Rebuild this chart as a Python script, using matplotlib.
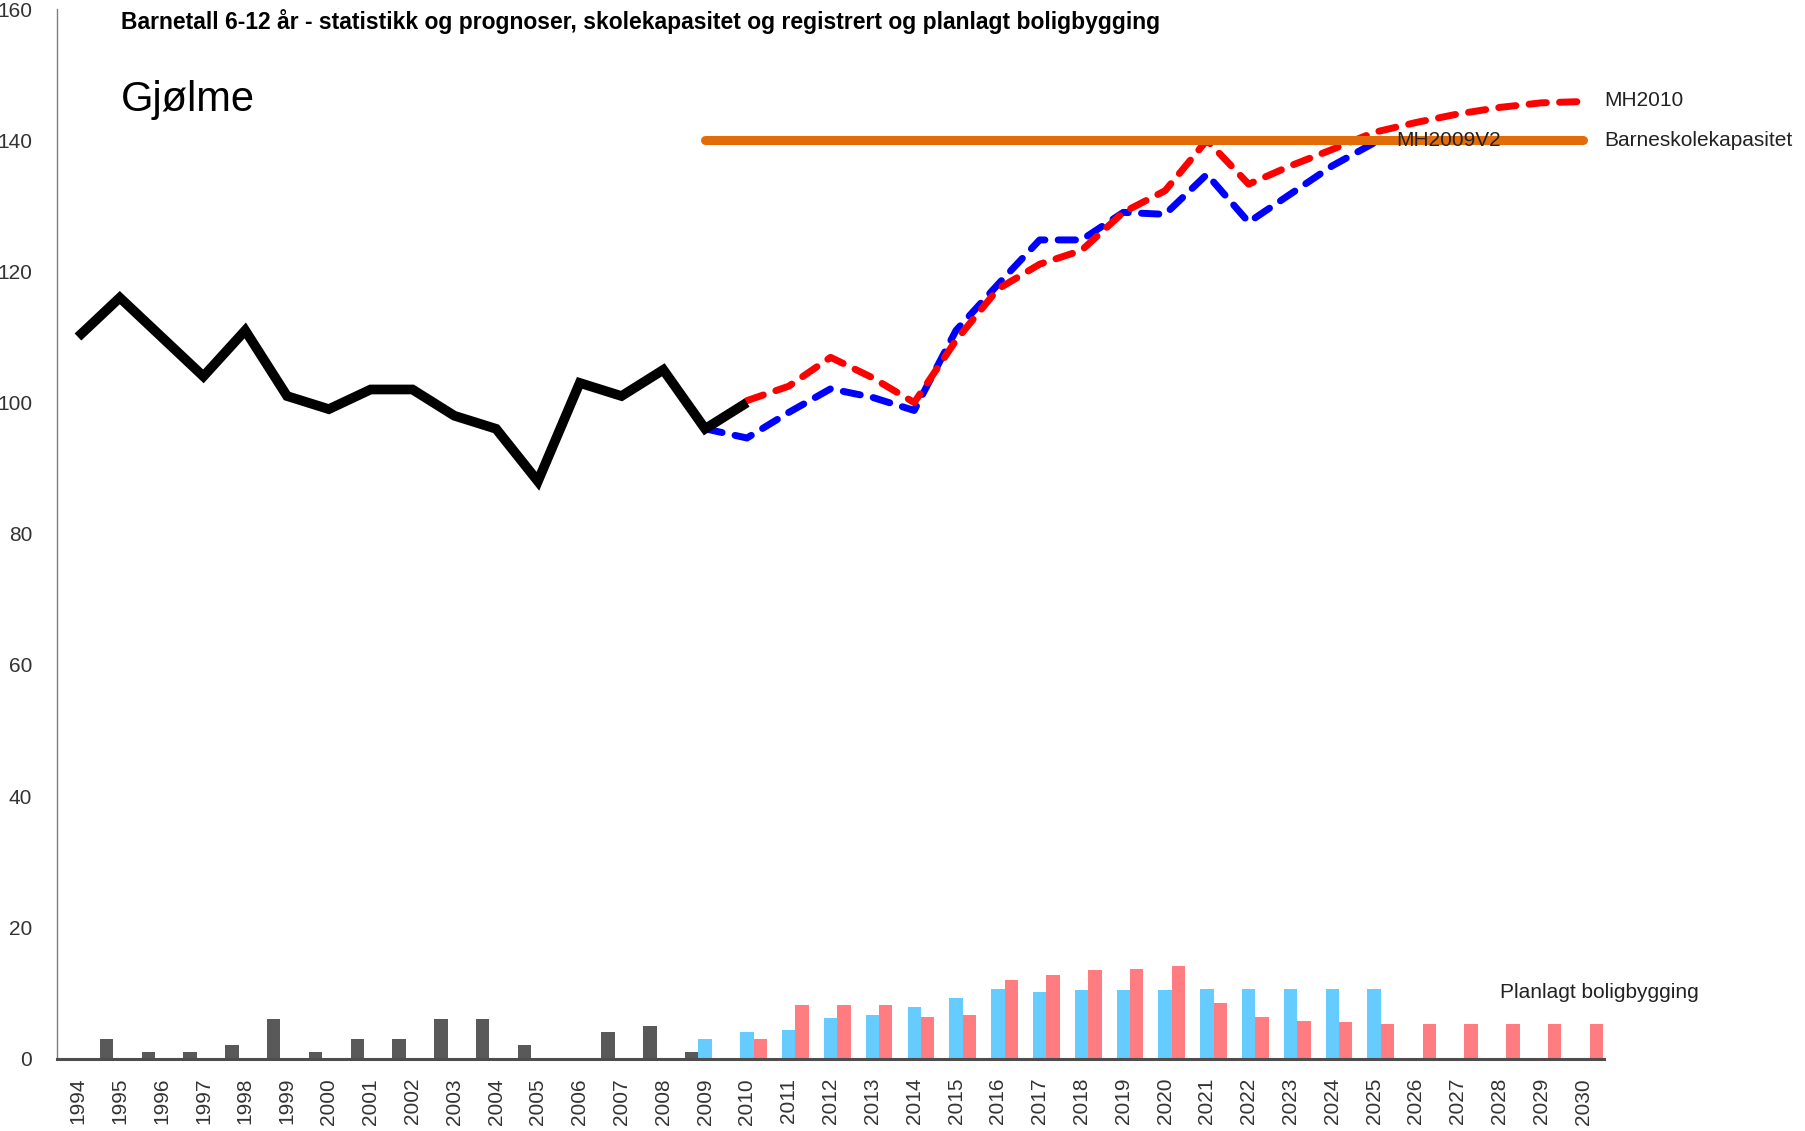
import numpy as np
import matplotlib.pyplot as plt
from matplotlib import font_manager

# fonts: narrow sans if we have it, else plain Liberation Sans
navn = {f.name for f in font_manager.fontManager.ttflist}
FONT = "Liberation Sans Narrow" if "Liberation Sans Narrow" in navn else "Liberation Sans"
plt.rcParams["font.family"] = [FONT, "DejaVu Sans"]

# --- data ---
aar = list(range(1994, 2031))

hist_aar = list(range(1994, 2011))
barnetall = [110, 116, 110, 104, 111, 101, 99, 102, 102, 98, 96, 88, 103, 101, 105, 96, 100]

mh2009_aar = list(range(2009, 2026))
mh2009v2 = [96, 94.6, 98.5, 102.1, 100.8, 98.8, 111, 118, 124.8, 124.8, 129, 128.7,
            134.8, 127.5, 131.8, 136.1, 139.6]

mh2010_aar = list(range(2010, 2031))
mh2010 = [100.3, 102.5, 106.9, 103.8, 100.0, 109.5, 117.3, 121.1, 123.2, 129, 132.3,
          140, 133.3, 136.1, 138.6, 141.2, 142.7, 144, 145, 145.7, 145.9]

kapasitet_aar = [2009, 2030]
kapasitet = [140, 140]

# boligbygging (bars)
reg_aar = list(range(1994, 2010))
registrert = [0, 3, 1, 1, 2, 6, 1, 3, 3, 6, 6, 2, 0, 4, 5, 1]

plan09_aar = list(range(2009, 2026))
plan09 = [2.9, 4.0, 4.3, 6.1, 6.7, 7.8, 9.2, 10.6, 10.2, 10.4, 10.4, 10.4,
          10.6, 10.6, 10.6, 10.6, 10.6]

plan10_aar = list(range(2010, 2031))
plan10 = [2.9, 8.1, 8.1, 8.1, 6.3, 6.7, 11.9, 12.7, 13.5, 13.7, 14.1, 8.4, 6.4,
          5.7, 5.5, 5.3, 5.3, 5.3, 5.3, 5.3, 5.3]

# --- figure ---
fig = plt.figure(figsize=(18.06, 11.31), dpi=100)
ax = fig.add_axes([0.0316, 0.0641, 0.8566, 0.9279])

bw = 0.32
ax.bar(np.array(reg_aar) - bw, registrert, width=bw, color="#595959", zorder=2)
ax.bar(np.array(plan09_aar), plan09, width=bw, color="#66CCFF", zorder=2)
ax.bar(np.array(plan10_aar) + bw, plan10, width=bw, color="#FF7C80", zorder=2)

strek = dict(lw=5, dashes=(2.5, 1.9), dash_capstyle="round", solid_joinstyle="round", zorder=3)
ax.plot(mh2009_aar, mh2009v2, color="#0000FF", **strek)
ax.plot(mh2010_aar, mh2010, color="#FF0000", **strek)
ax.plot(hist_aar, barnetall, color="black", lw=7, solid_capstyle="butt",
        solid_joinstyle="miter", zorder=4)
ax.plot(kapasitet_aar, kapasitet, color="#E36C0A", lw=6.5, solid_capstyle="round", zorder=5)

ax.set_xlim(1993.5, 2030.5)
ax.set_ylim(0, 160)
ax.set_yticks(range(0, 161, 20))
ax.set_xticks(aar)
ax.set_xticklabels([str(a) for a in aar], rotation=90)
ax.tick_params(length=0, labelsize=15, colors="#333333")
ax.tick_params(axis="y", pad=18)
ax.tick_params(axis="x", pad=14)

for s in ("top", "right"):
    ax.spines[s].set_visible(False)
ax.spines["left"].set_color("#7f7f7f")
ax.spines["left"].set_linewidth(1)
ax.spines["bottom"].set_color("#4d4d4d")
ax.spines["bottom"].set_linewidth(2.2)

# labels on the right side
ax.text(2030.5, 146, "MH2010", fontsize=15, va="center", ha="left", color="#222222", clip_on=False)
ax.text(2030.5, 140, "Barneskolekapasitet", fontsize=15, va="center", ha="left",
        color="#222222", clip_on=False)
ax.text(2025.53, 140, "MH2009V2", fontsize=15, va="center", ha="left", color="#222222", zorder=6)
ax.text(2028.0, 10, "Planlagt boligbygging", fontsize=15, va="center", ha="left", color="#222222")

fig.text(0.067, 0.981, "Barnetall 6-12 år - statistikk og prognoser, skolekapasitet og registrert "
         "og planlagt boligbygging", fontsize=16.5, fontweight="bold", va="center", ha="left")
fig.text(0.067, 0.912, "Gjølme", fontsize=30, va="center", ha="left")

fig.savefig("out.png", dpi=100, facecolor="white")
